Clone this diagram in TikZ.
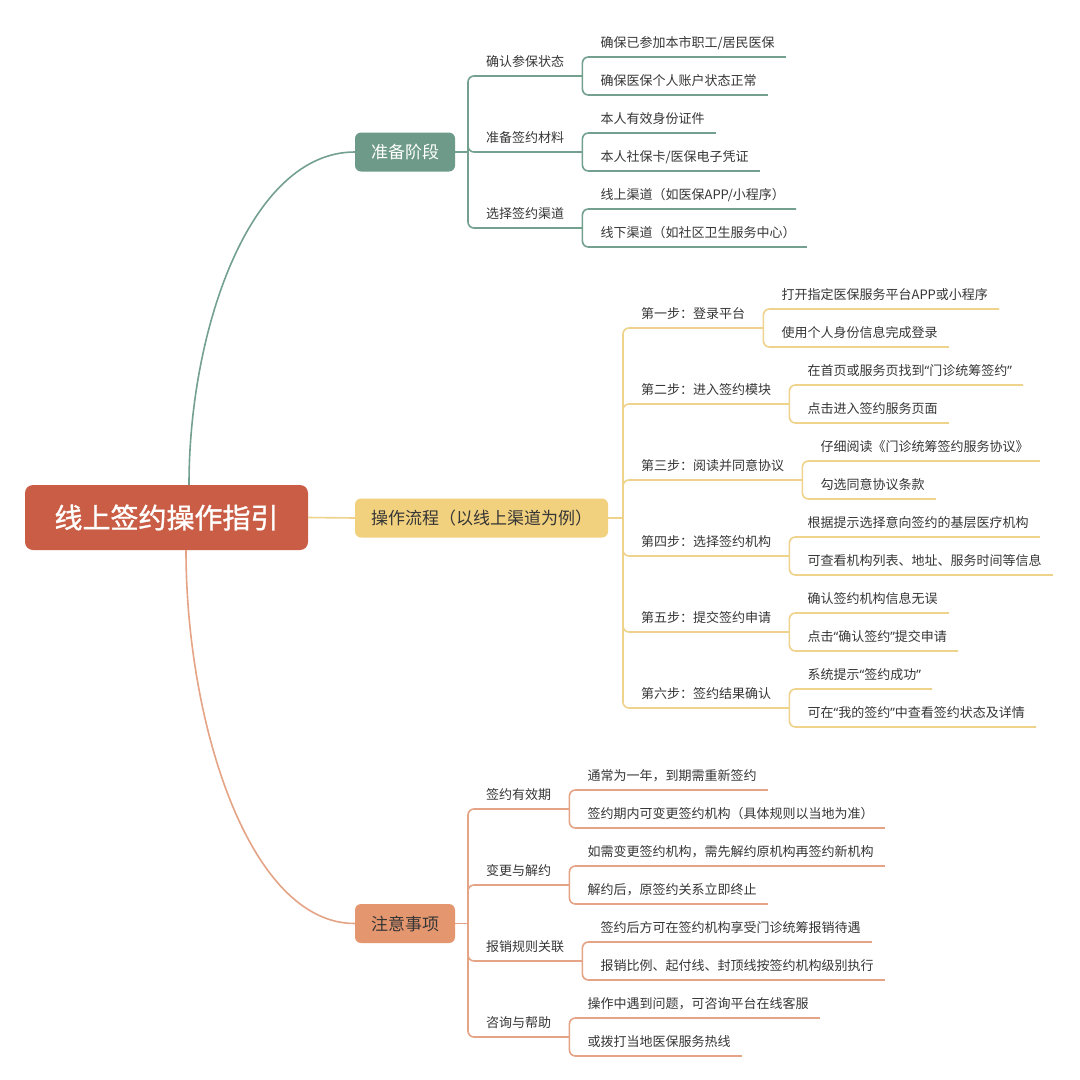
\documentclass[tikz,border=0pt]{standalone}
\usepackage{fontspec}
\newfontfamily\zhfont{Noto Sans CJK SC}
\newfontfamily\zhbold[FakeBold=1.2]{Noto Sans CJK SC}
\newfontfamily\quotefont{Noto Sans}
\newcommand{\openq}{{\quotefont “}}
\newcommand{\closeq}{{\quotefont ”}}
\usetikzlibrary{positioning}

\definecolor{rootred}{HTML}{CA5D45}
\definecolor{sagefill}{HTML}{6E9A89}
\definecolor{sageline}{HTML}{74A08F}
\definecolor{goldfill}{HTML}{F2D17E}
\definecolor{goldline}{HTML}{EFD38C}
\definecolor{peachfill}{HTML}{E4966F}
\definecolor{peachline}{HTML}{E4A485}
\definecolor{inkgray}{HTML}{363636}

\tikzset{
  every node/.style={font=\zhfont},
  rootbox/.style={fill=rootred, text=white, rounded corners=8pt, minimum width=283pt, minimum height=65pt,
    font=\zhbold\fontsize{28}{30}\selectfont},
  mainbox/.style={fill=#1, text=inkgray, rounded corners=6pt, minimum height=39pt, inner xsep=16pt,
    font=\zhfont\fontsize{17}{19}\selectfont},
  sub/.style={anchor=south west, inner xsep=18pt, inner ysep=0pt, text depth=9pt, text=inkgray,
    font=\zhfont\fontsize{13}{15}\selectfont},
  leaf/.style={sub, inner xsep=11pt},
  link/.style={draw=#1, line width=1.6pt, rounded corners=6pt},
}

\begin{document}
\begin{tikzpicture}[x=1pt, y=-1pt]
  \fill[white] (0,0) rectangle (1080,1080);
  \useasboundingbox (0,0) rectangle (1080,1080);

  % central topic and main branches
  \node[rootbox] (root) at (166.5,517.5) {线上签约操作指引};
  \node[mainbox=sagefill, text=white] (prep) at (405,152) {准备阶段};
  \node[mainbox=goldfill] (flow) at (481.5,518) {操作流程（以线上渠道为例）};
  \node[mainbox=peachfill] (note) at (405,923.5) {注意事项};

  \draw[link=sageline] ([xshift=22.5pt]root.north) .. controls +(0,-155) and +(-105,0) .. (prep.west);
  \draw[link=goldline] (root.east) -- (flow.west);
  \draw[link=peachline] ([xshift=19.5pt]root.south) .. controls +(0,172) and +(-106,0) .. (note.west);

  % preparation
  \node[sub] (p1) at (468,76) {确认参保状态};
  \node[sub] (p2) at (468,152) {准备签约材料};
  \node[sub] (p3) at (468,228) {选择签约渠道};
  \node[leaf] (p1-1) at ([xshift=7pt,yshift=19pt]p1.south east) {确保已参加本市职工/居民医保};
  \node[leaf] (p1-2) at ([xshift=7pt,yshift=-19pt]p1.south east) {确保医保个人账户状态正常};
  \node[leaf] (p2-1) at ([xshift=7pt,yshift=19pt]p2.south east) {本人有效身份证件};
  \node[leaf] (p2-2) at ([xshift=7pt,yshift=-19pt]p2.south east) {本人社保卡/医保电子凭证};
  \node[leaf] (p3-1) at ([xshift=7pt,yshift=19pt]p3.south east) {线上渠道（如医保APP/小程序）};
  \node[leaf] (p3-2) at ([xshift=7pt,yshift=-19pt]p3.south east) {线下渠道（如社区卫生服务中心）};

  \draw[link=sageline] (prep.east) -- (prep.east -| p1.south west);
  \foreach \k in {p1,p2,p3} {
    \draw[link=sageline] (prep.east -| p1.south west) |- (\k.south east);
    \draw[link=sageline] (\k.south east) |- (\k-1.south east);
    \draw[link=sageline] (\k.south east) |- (\k-2.south east);
  }

  % online procedure
  \node[sub] (q1) at (623,328) {第一步：登录平台};
  \node[sub] (q2) at (623,404) {第二步：进入签约模块};
  \node[sub] (q3) at (623,480) {第三步：阅读并同意协议};
  \node[sub] (q4) at (623,556) {第四步：选择签约机构};
  \node[sub] (q5) at (623,632) {第五步：提交签约申请};
  \node[sub] (q6) at (623,708) {第六步：签约结果确认};
  \node[leaf] (q1-1) at ([xshift=7pt,yshift=19pt]q1.south east) {打开指定医保服务平台APP或小程序};
  \node[leaf] (q1-2) at ([xshift=7pt,yshift=-19pt]q1.south east) {使用个人身份信息完成登录};
  \node[leaf] (q2-1) at ([xshift=7pt,yshift=19pt]q2.south east) {在首页或服务页找到\openq 门诊统筹签约\closeq};
  \node[leaf] (q2-2) at ([xshift=7pt,yshift=-19pt]q2.south east) {点击进入签约服务页面};
  \node[leaf] (q3-1) at ([xshift=7pt,yshift=19pt]q3.south east) {仔细阅读《门诊统筹签约服务协议》};
  \node[leaf] (q3-2) at ([xshift=7pt,yshift=-19pt]q3.south east) {勾选同意协议条款};
  \node[leaf] (q4-1) at ([xshift=7pt,yshift=19pt]q4.south east) {根据提示选择意向签约的基层医疗机构};
  \node[leaf] (q4-2) at ([xshift=7pt,yshift=-19pt]q4.south east) {可查看机构列表、地址、服务时间等信息};
  \node[leaf] (q5-1) at ([xshift=7pt,yshift=19pt]q5.south east) {确认签约机构信息无误};
  \node[leaf] (q5-2) at ([xshift=7pt,yshift=-19pt]q5.south east) {点击\openq 确认签约\closeq 提交申请};
  \node[leaf] (q6-1) at ([xshift=7pt,yshift=19pt]q6.south east) {系统提示\openq 签约成功\closeq};
  \node[leaf] (q6-2) at ([xshift=7pt,yshift=-19pt]q6.south east) {可在\openq 我的签约\closeq 中查看签约状态及详情};

  \draw[link=goldline] (flow.east) -- (flow.east -| q1.south west);
  \foreach \k in {q1,q2,q3,q4,q5,q6} {
    \draw[link=goldline] (flow.east -| q1.south west) |- (\k.south east);
    \draw[link=goldline] (\k.south east) |- (\k-1.south east);
    \draw[link=goldline] (\k.south east) |- (\k-2.south east);
  }

  % notes
  \node[sub] (r1) at (468,809) {签约有效期};
  \node[sub] (r2) at (468,885) {变更与解约};
  \node[sub] (r3) at (468,961) {报销规则关联};
  \node[sub] (r4) at (468,1037) {咨询与帮助};
  \node[leaf] (r1-1) at ([xshift=7pt,yshift=19pt]r1.south east) {通常为一年，到期需重新签约};
  \node[leaf] (r1-2) at ([xshift=7pt,yshift=-19pt]r1.south east) {签约期内可变更签约机构（具体规则以当地为准）};
  \node[leaf] (r2-1) at ([xshift=7pt,yshift=19pt]r2.south east) {如需变更签约机构，需先解约原机构再签约新机构};
  \node[leaf] (r2-2) at ([xshift=7pt,yshift=-19pt]r2.south east) {解约后，原签约关系立即终止};
  \node[leaf] (r3-1) at ([xshift=7pt,yshift=19pt]r3.south east) {签约后方可在签约机构享受门诊统筹报销待遇};
  \node[leaf] (r3-2) at ([xshift=7pt,yshift=-19pt]r3.south east) {报销比例、起付线、封顶线按签约机构级别执行};
  \node[leaf] (r4-1) at ([xshift=7pt,yshift=19pt]r4.south east) {操作中遇到问题，可咨询平台在线客服};
  \node[leaf] (r4-2) at ([xshift=7pt,yshift=-19pt]r4.south east) {或拨打当地医保服务热线};

  \draw[link=peachline] (note.east) -- (note.east -| r1.south west);
  \foreach \k in {r1,r2,r3,r4} {
    \draw[link=peachline] (note.east -| r1.south west) |- (\k.south east);
    \draw[link=peachline] (\k.south east) |- (\k-1.south east);
    \draw[link=peachline] (\k.south east) |- (\k-2.south east);
  }
\end{tikzpicture}
\end{document}
